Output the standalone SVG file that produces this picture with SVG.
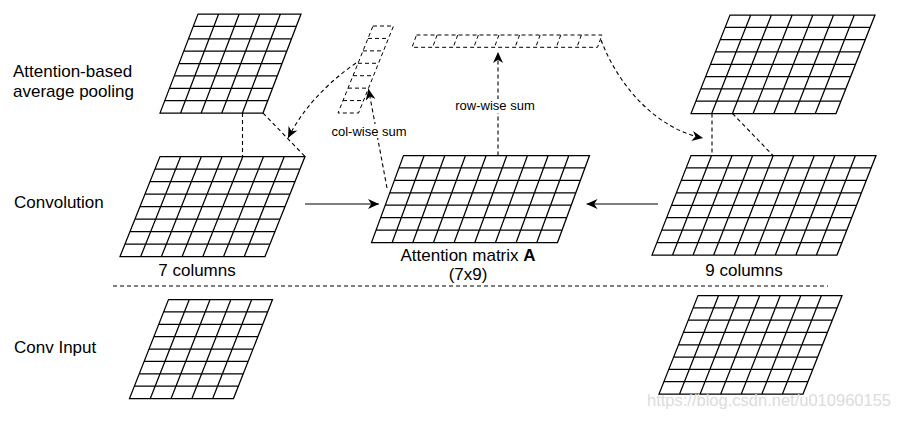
<svg xmlns="http://www.w3.org/2000/svg" width="898" height="421" viewBox="0 0 898 421">
<style>
.g{fill:#fff;stroke:#000;stroke-width:1.25;vector-effect:non-scaling-stroke}
.v{fill:none;stroke:#000;stroke-width:1;stroke-dasharray:4 3;vector-effect:non-scaling-stroke}
.c{fill:none;stroke:#000;stroke-width:1.1}
.d{stroke-dasharray:4 3}
.t{font-family:"Liberation Sans",Arial,Helvetica,sans-serif;font-size:17px;fill:#000}
.s{font-family:"Liberation Sans",Arial,Helvetica,sans-serif;font-size:13px;fill:#000}
.w{font-family:"Liberation Sans",Arial,Helvetica,sans-serif;font-size:16.5px;fill:#dcdcdc}
</style>
<defs>
<marker id="arr" viewBox="0 0 11 10" refX="11" refY="5" markerWidth="11" markerHeight="10" orient="auto" markerUnits="userSpaceOnUse"><path d="M0,0 L11,5 L0,10 L3.3,5 Z" fill="#000" stroke="none"/></marker>
</defs>
<rect width="898" height="421" fill="#fff"/>

<g id="labels-left">
<text class="t" x="13" y="76.5">Attention-based</text>
<text class="t" x="13" y="97">average pooling</text>
<text class="t" x="14" y="208">Convolution</text>
<text class="t" x="14" y="353">Conv Input</text>
</g>

<g id="connectors">
<line class="c d" x1="113" y1="286" x2="828" y2="286"/>
<line class="c d" x1="242.5" y1="113" x2="242.5" y2="156.5"/>
<line class="c d" x1="263" y1="113" x2="305" y2="156.5"/>
<line class="c d" x1="712" y1="113.5" x2="712" y2="155.5"/>
<line class="c d" x1="732.5" y1="113.5" x2="773" y2="155.5"/>
<line class="c" x1="305" y1="204" x2="379" y2="204" marker-end="url(#arr)"/>
<line class="c" x1="658" y1="204" x2="586.5" y2="204" marker-end="url(#arr)"/>
<line class="c d" x1="498" y1="155.5" x2="498" y2="52" marker-end="url(#arr)"/>
<line class="c d" x1="387" y1="188" x2="368.5" y2="89" marker-end="url(#arr)"/>
<path class="c d" d="M356,63 Q310,95 288,138" marker-end="url(#arr)"/>
<path class="c d" d="M601,40 C620,90 660,130 703,138" marker-end="url(#arr)"/>
<rect x="456" y="99" width="80" height="14" fill="#fff"/>
<text class="s" x="495" y="110" text-anchor="middle">row-wise sum</text>
<rect x="332" y="124" width="74" height="14" fill="#fff"/>
<text class="s" x="369" y="135.5" text-anchor="middle">col-wise sum</text>
</g>

<g id="pool-left" transform="translate(198 14) skewX(-21)">
<path class="g" d="M0,0H103V99H0Z M0,12.375H103 M0,24.75H103 M0,37.125H103 M0,49.5H103 M0,61.875H103 M0,74.25H103 M0,86.625H103 M20.6,0V99 M41.2,0V99 M61.8,0V99 M82.4,0V99"/>
</g>

<g id="conv-left" transform="translate(160 156.5) skewX(-21.8)">
<path class="g" d="M0,0H145V100H0Z M0,12.5H145 M0,25H145 M0,37.5H145 M0,50H145 M0,62.5H145 M0,75H145 M0,87.5H145 M20.71,0V100 M41.43,0V100 M62.14,0V100 M82.86,0V100 M103.57,0V100 M124.29,0V100"/>
</g>
<text id="lbl-7col" class="t" x="197" y="276" text-anchor="middle">7 columns</text>

<g id="attention" transform="translate(403.5 155.5) skewX(-20.2)">
<path class="g" d="M0,0H186V87H0Z M0,12.43H186 M0,24.86H186 M0,37.29H186 M0,49.71H186 M0,62.14H186 M0,74.57H186 M20.67,0V87 M41.33,0V87 M62,0V87 M82.67,0V87 M103.33,0V87 M124,0V87 M144.67,0V87 M165.33,0V87"/>
</g>
<text id="lbl-att" class="t" x="468" y="261" text-anchor="middle">Attention matrix <tspan font-weight="bold">A</tspan></text>
<text id="lbl-79" class="t" x="468" y="280" text-anchor="middle">(7x9)</text>

<g id="col-vector" transform="translate(373 26) skewX(-21.9)">
<path class="v" d="M0,0H20.5V87H0Z M0,12.43H20.5 M0,24.86H20.5 M0,37.29H20.5 M0,49.71H20.5 M0,62.14H20.5 M0,74.57H20.5"/>
</g>

<g id="row-vector" transform="translate(416.5 35) skewX(-20)">
<path class="v" d="M0,0H185.5V12.3H0Z M20.61,0V12.3 M41.22,0V12.3 M61.83,0V12.3 M82.44,0V12.3 M103.06,0V12.3 M123.67,0V12.3 M144.28,0V12.3 M164.89,0V12.3"/>
</g>

<g id="pool-right" transform="translate(730 15) skewX(-21.6)">
<path class="g" d="M0,0H145V98.5H0Z M0,12.31H145 M0,24.63H145 M0,36.94H145 M0,49.25H145 M0,61.56H145 M0,73.88H145 M0,86.19H145 M20.71,0V98.5 M41.43,0V98.5 M62.14,0V98.5 M82.86,0V98.5 M103.57,0V98.5 M124.29,0V98.5"/>
</g>

<g id="conv-right" transform="translate(691 155.5) skewX(-21.4)">
<path class="g" d="M0,0H185V99.5H0Z M0,12.44H185 M0,24.88H185 M0,37.31H185 M0,49.75H185 M0,62.19H185 M0,74.63H185 M0,87.06H185 M20.56,0V99.5 M41.11,0V99.5 M61.67,0V99.5 M82.22,0V99.5 M102.78,0V99.5 M123.33,0V99.5 M143.89,0V99.5 M164.44,0V99.5"/>
</g>
<text id="lbl-9col" class="t" x="744" y="276" text-anchor="middle">9 columns</text>

<g id="input-left" transform="translate(168.5 299.5) skewX(-21.5)">
<path class="g" d="M0,0H104V99H0Z M0,12.375H104 M0,24.75H104 M0,37.125H104 M0,49.5H104 M0,61.875H104 M0,74.25H104 M0,86.625H104 M20.8,0V99 M41.6,0V99 M62.4,0V99 M83.2,0V99"/>
</g>

<g id="input-right" transform="translate(698 295.5) skewX(-21.6)">
<path class="g" d="M0,0H144V98.5H0Z M0,12.31H144 M0,24.63H144 M0,36.94H144 M0,49.25H144 M0,61.56H144 M0,73.88H144 M0,86.19H144 M20.57,0V98.5 M41.14,0V98.5 M61.71,0V98.5 M82.29,0V98.5 M102.86,0V98.5 M123.43,0V98.5"/>
</g>

<text id="watermark" class="w" x="647" y="406">https://blog.csdn.net/u010960155</text>
</svg>
